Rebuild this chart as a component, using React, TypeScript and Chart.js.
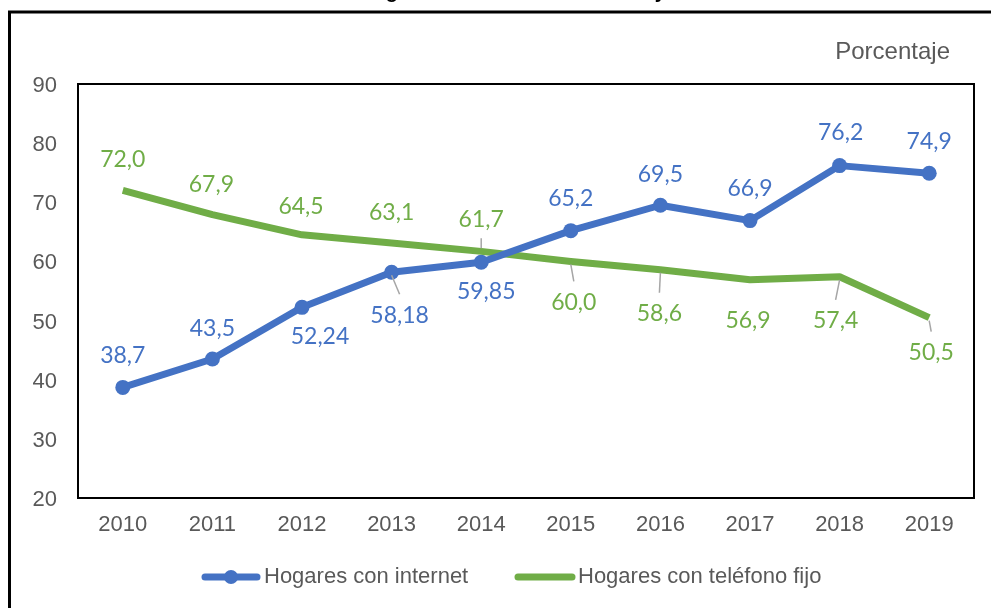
import { useEffect, useRef } from "react";
import { Chart, registerables } from "chart.js";

Chart.register(...registerables);

const years = ["2010", "2011", "2012", "2013", "2014", "2015", "2016", "2017", "2018", "2019"];
const internet = [38.7, 43.5, 52.24, 58.18, 59.85, 65.2, 69.5, 66.9, 76.2, 74.9];
const telefono = [72.0, 67.9, 64.5, 63.1, 61.7, 60.0, 58.6, 56.9, 57.4, 50.5];
const yTicks = [20, 30, 40, 50, 60, 70, 80, 90];
const seriesNames = ["Hogares con internet", "Hogares con teléfono fijo"];
const unitLabel = "Porcentaje";
const titleText = "Hogares con acceso a internet y teléfono";

// styling: label offsets (px) relative to each point, and leader-line flags
const internetLabelOffsets = [[0, -33], [0, -31], [18, 28], [8, 42], [5, 28], [0, -33], [0, -32], [0, -33], [1, -34], [0, -33]];
const telefonoLabelOffsets = [[0, -32], [-1, -31], [-1, -29], [0, -32], [0, -33], [3, 40], [-1, 43], [-2, 40], [-4, 43], [2, 34]];
const internetLeaders = [false, false, false, true, false, false, false, false, false, false];
const telefonoLeaders = [false, false, false, false, true, true, true, false, true, true];

const BLUE = "#4472C4";
const GREEN = "#70AD47";
const GRAY_TEXT = "#595959";
const SANS = "'Liberation Sans', Arial, sans-serif";
const LABEL_FONT = "Lato, 'Open Sans', sans-serif";

const fmt = (v: number) => (Number.isInteger(v) ? v.toFixed(1) : String(v)).replace(".", ",");

const decorPlugin = {
  id: "decor",
  afterDatasetsDraw(chart: any) {
    const ctx = chart.ctx;
    const area = chart.chartArea;
    ctx.save();
    // plot border
    ctx.strokeStyle = "#000";
    ctx.lineWidth = 2;
    ctx.strokeRect(area.left, area.top, area.right - area.left, area.bottom - area.top);

    const sets = [
      { idx: 0, offs: internetLabelOffsets, leaders: internetLeaders, color: BLUE },
      { idx: 1, offs: telefonoLabelOffsets, leaders: telefonoLeaders, color: GREEN },
    ];
    ctx.font = `23px ${LABEL_FONT}`;
    ctx.textAlign = "center";
    ctx.textBaseline = "middle";
    for (const s of sets) {
      const meta = chart.getDatasetMeta(s.idx);
      const data = chart.data.datasets[s.idx].data as number[];
      meta.data.forEach((pt: any, i: number) => {
        const [dx, dy] = s.offs[i];
        const lx = pt.x + dx;
        const ly = pt.y + dy;
        if (s.leaders[i]) {
          const sg = dy > 0 ? 1 : -1;
          ctx.strokeStyle = "#A6A6A6";
          ctx.lineWidth = 1.5;
          ctx.beginPath();
          ctx.moveTo(pt.x, pt.y + sg * 3);
          ctx.lineTo(lx, ly - sg * 20);
          ctx.stroke();
        }
        ctx.fillStyle = s.color;
        ctx.fillText(fmt(data[i]), lx, ly + 1);
      });
    }
    ctx.restore();
  },
  afterDraw(chart: any) {
    const ctx = chart.ctx;
    ctx.save();
    // outer frame
    ctx.strokeStyle = "#000";
    ctx.lineWidth = 3;
    ctx.strokeRect(9.5, 12, 1200, 800);
    // title (mostly above the visible area)
    ctx.fillStyle = "#000";
    ctx.font = `bold 20px ${SANS}`;
    ctx.textAlign = "left";
    ctx.textBaseline = "alphabetic";
    ctx.fillText(titleText, 359, -2);
    // unit label
    ctx.fillStyle = GRAY_TEXT;
    ctx.font = `24px ${SANS}`;
    ctx.textAlign = "right";
    ctx.textBaseline = "middle";
    ctx.fillText(unitLabel, 950, 52);
    // legend
    const ly = 577;
    const items = [
      { x0: 202, x1: 260, tx: 264, color: BLUE, marker: true, text: chart.data.datasets[0].label },
      { x0: 515, x1: 575, tx: 578, color: GREEN, marker: false, text: chart.data.datasets[1].label },
    ];
    for (const it of items) {
      ctx.strokeStyle = it.color;
      ctx.lineWidth = 7;
      ctx.lineCap = "round";
      ctx.beginPath();
      ctx.moveTo(it.x0 + 3, ly);
      ctx.lineTo(it.x1 - 3, ly);
      ctx.stroke();
      if (it.marker) {
        ctx.fillStyle = it.color;
        ctx.beginPath();
        ctx.arc((it.x0 + it.x1) / 2, ly, 7, 0, Math.PI * 2);
        ctx.fill();
      }
      ctx.fillStyle = GRAY_TEXT;
      ctx.font = `22px ${SANS}`;
      ctx.textAlign = "left";
      ctx.textBaseline = "middle";
      ctx.fillText(it.text, it.tx, ly);
    }
    ctx.restore();
  },
};

export default function App() {
  const ref = useRef<HTMLCanvasElement | null>(null);
  useEffect(() => {
    if (!ref.current) return;
    const chart = new Chart(ref.current, {
      type: "line",
      data: {
        labels: years,
        datasets: [
          {
            label: seriesNames[0],
            data: internet,
            borderColor: BLUE,
            backgroundColor: BLUE,
            borderWidth: 7,
            pointRadius: 7.5,
            pointBorderWidth: 0,
            pointBackgroundColor: BLUE,
            tension: 0,
            borderJoinStyle: "round",
          },
          {
            label: seriesNames[1],
            data: telefono,
            borderColor: GREEN,
            backgroundColor: GREEN,
            borderWidth: 7,
            pointRadius: 0,
            tension: 0,
            borderJoinStyle: "round",
          },
        ],
      },
      options: {
        animation: false,
        responsive: false,
        devicePixelRatio: 1,
        layout: { padding: { top: 84, right: 17, bottom: 70, left: 0 } },
        plugins: { legend: { display: false }, tooltip: { enabled: false }, title: { display: false } },
        scales: {
          x: {
            offset: true,
            grid: { display: false, drawTicks: false },
            border: { display: false },
            ticks: { color: GRAY_TEXT, font: { family: SANS, size: 22 }, padding: 14, maxRotation: 0 },
            afterFit: (s: any) => {
              s.height = 40;
            },
          },
          y: {
            min: 20,
            max: 90,
            grid: { display: false, drawTicks: false },
            border: { display: false },
            ticks: { color: GRAY_TEXT, font: { family: SANS, size: 22 }, padding: 21, stepSize: 10, labelOffset: 2 },
            afterBuildTicks: (s: any) => {
              s.ticks = yTicks.map((v) => ({ value: v }));
            },
            afterFit: (s: any) => {
              s.width = 78;
            },
          },
        },
      } as any,
      plugins: [decorPlugin],
    });
    return () => chart.destroy();
  }, []);
  return (
    <div style={{ position: "absolute", left: 0, top: 0, width: 991, height: 608, background: "#fff" }}>
      <canvas ref={ref} width={991} height={608} style={{ width: 991, height: 608, display: "block" }} />
    </div>
  );
}
